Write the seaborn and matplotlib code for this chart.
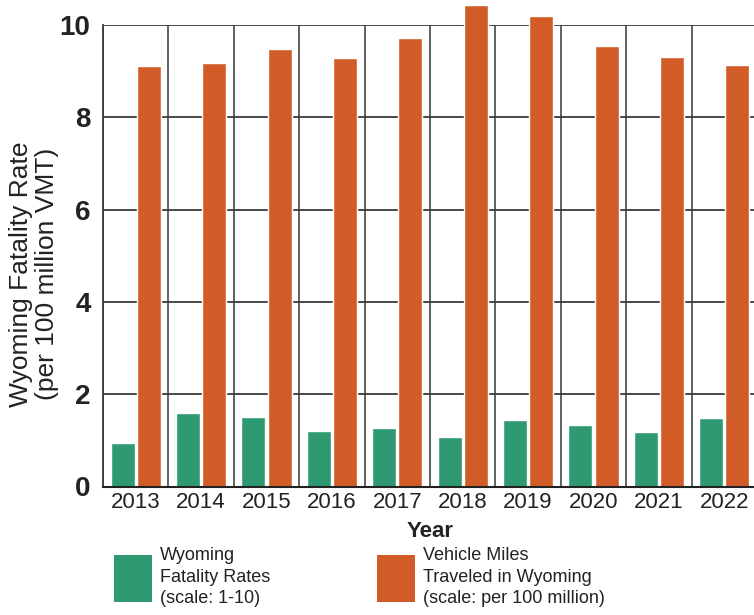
import matplotlib
matplotlib.use("Agg")
import matplotlib.pyplot as plt
import pandas as pd
import seaborn as sns
from matplotlib.patches import Patch
from matplotlib.ticker import MultipleLocator

years = ["2013", "2014", "2015", "2016", "2017", "2018", "2019", "2020", "2021", "2022"]
fatality_rate = [0.94, 1.59, 1.51, 1.20, 1.27, 1.07, 1.44, 1.33, 1.18, 1.48]
vmt = [9.11, 9.18, 9.48, 9.28, 9.72, 10.43, 10.19, 9.55, 9.31, 9.13]
series_names = [
    "Wyoming\nFatality Rates\n(scale: 1-10)",
    "Vehicle Miles\nTraveled in Wyoming\n(scale: per 100 million)",
]
colors = ["#2f9a72", "#d15c27"]

df = pd.DataFrame({
    "Year": years * 2,
    "value": fatality_rate + vmt,
    "series": [series_names[0]] * len(years) + [series_names[1]] * len(years),
})

sns.set_style("white")
plt.rcParams["font.family"] = ["Liberation Sans", "DejaVu Sans"]

fig = plt.figure(figsize=(7.54, 6.15), dpi=100)
ax = fig.add_axes([103 / 754, 1 - 486.5 / 615, 654 / 754, 461.5 / 615])

sns.barplot(data=df, x="Year", y="value", hue="series", palette=colors,
            width=0.8, gap=0.08, ax=ax, legend=False, saturation=1)
for p in ax.patches:
    p.set_clip_on(False)

ax.set_ylim(0, 10)
ax.set_xlim(-0.5, 9.5)
ax.yaxis.set_major_locator(MultipleLocator(2))
ax.xaxis.set_minor_locator(MultipleLocator(1, offset=0.5))
ax.grid(True, axis="y", which="major", color="#3a3a3a", lw=1.3)
ax.grid(True, axis="x", which="minor", color="#555555", lw=1.3)
ax.grid(False, axis="x", which="major")
ax.set_axisbelow(True)
for s in ["top", "right"]:
    ax.spines[s].set_visible(False)
ax.spines["left"].set_color("#3a3a3a")
ax.spines["left"].set_linewidth(1.3)
ax.spines["bottom"].set_color("#222222")
ax.spines["bottom"].set_linewidth(1.5)

ax.tick_params(axis="y", which="both", length=0, pad=9, labelsize=20, colors="#222222")
ax.tick_params(axis="x", which="both", length=0, pad=4, labelsize=16, colors="#222222")
for lab in ax.get_yticklabels():
    lab.set_fontweight("bold")

ax.set_ylabel("Wyoming Fatality Rate\n(per 100 million VMT)", fontsize=19,
              color="#222222", linespacing=1.1)
ax.yaxis.label.set_va("center")
ax.yaxis.set_label_coords((34 - 103) / 654, (486.5 - 274) / 461.5)
ax.set_xlabel("Year", fontsize=16, fontweight="bold", color="#222222", labelpad=6)

handles = [Patch(facecolor=c, edgecolor="none") for c in colors]
leg = fig.legend(handles, series_names, loc="upper left", ncol=2,
                 bbox_to_anchor=(114 / 754, 1 - 547 / 615), frameon=False,
                 fontsize=13, handlelength=2.1, handleheight=3.6,
                 handletextpad=0.45, columnspacing=5.9, borderpad=0,
                 borderaxespad=0)
for t in leg.get_texts():
    t.set_linespacing(1.35)
    t.set_color("#222222")

fig.savefig("out.png", dpi=100)
